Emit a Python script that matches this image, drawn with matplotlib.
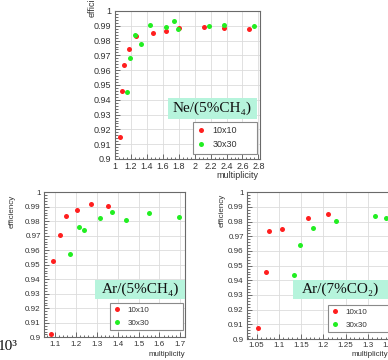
import matplotlib
matplotlib.use("Agg")
import matplotlib.pyplot as plt
from matplotlib.ticker import MultipleLocator, AutoMinorLocator, FuncFormatter
from matplotlib.patches import Rectangle

# ---------------- data ----------------
legend_labels = ["10x10", "30x30"]
panel_titles = ["Ne/(5%CH₄)", "Ar/(5%CH₄)", "Ar/(7%CO₂)"]

ne_red_x = [1.063, 1.084, 1.118, 1.177, 1.265, 1.475, 1.635, 1.800, 2.123, 2.367, 2.686]
ne_red_y = [0.9146, 0.9460, 0.9636, 0.9746, 0.9831, 0.9849, 0.9865, 0.9885, 0.9892, 0.9885, 0.9876]
ne_green_x = [1.147, 1.189, 1.252, 1.324, 1.442, 1.639, 1.744, 1.795, 2.177, 2.367, 2.745]
ne_green_y = [0.9450, 0.9683, 0.9838, 0.9775, 0.9903, 0.9894, 0.9930, 0.9876, 0.9897, 0.9908, 0.9901]

ar_ch4_red_x = [1.080, 1.090, 1.126, 1.154, 1.207, 1.274, 1.355]
ar_ch4_red_y = [0.9021, 0.9526, 0.9706, 0.9836, 0.9878, 0.9921, 0.9906]
ar_ch4_green_x = [1.170, 1.213, 1.240, 1.316, 1.371, 1.440, 1.548, 1.694]
ar_ch4_green_y = [0.9572, 0.9759, 0.9740, 0.9825, 0.9862, 0.9811, 0.9860, 0.9828]

ar_co2_red_x = [1.052, 1.070, 1.0785, 1.106, 1.166, 1.210]
ar_co2_red_y = [0.9075, 0.9455, 0.9736, 0.9750, 0.9826, 0.9854]
ar_co2_green_x = [1.134, 1.148, 1.177, 1.229, 1.316, 1.341]
ar_co2_green_y = [0.9436, 0.9643, 0.9754, 0.9802, 0.9840, 0.9824]

# ---------------- style ----------------
W, H = 388, 360
plt.rcParams['font.family'] = ['Liberation Sans', 'DejaVu Sans']
RED = '#ff1f1f'
GREEN = '#22ee22'
MINT = '#b6f4dc'
TXT = '#333333'
SERIF = ['Liberation Serif', 'DejaVu Serif']

fig = plt.figure(figsize=(W / 100, H / 100), dpi=100)


def fx(px):
    return px / W


def fy(py):
    return 1 - py / H


def make_panel(left, right, top, bottom, xlim, xmaj, xminor_n, fs,
               rx, ry, gx, gy, title, tbox, lbox, lab_eff, lab_mult, mult_ha):
    ax = fig.add_axes([fx(left), fy(bottom), fx(right - left), (bottom - top) / H])
    ax.set_xlim(*xlim)
    ax.set_ylim(0.9, 1.0)
    ax.xaxis.set_major_locator(MultipleLocator(xmaj))
    ax.xaxis.set_minor_locator(AutoMinorLocator(xminor_n))
    ax.yaxis.set_major_locator(MultipleLocator(0.01))
    ax.yaxis.set_minor_locator(AutoMinorLocator(5))
    fmt = FuncFormatter(lambda v, p: f"{v:.3f}".rstrip('0').rstrip('.'))
    ax.xaxis.set_major_formatter(fmt)
    ax.yaxis.set_major_formatter(fmt)
    ax.tick_params(which='both', direction='in', colors='#555555', labelcolor=TXT,
                   labelsize=fs, width=0.6)
    ax.tick_params(which='major', length=3.5, pad=2.5)
    ax.tick_params(which='minor', length=1.8)
    ax.grid(True, which='major', color='#dcdcdc', lw=0.6)
    ax.set_axisbelow(True)
    for s in ax.spines.values():
        s.set_color('#6a6a6a')
        s.set_linewidth(0.8)
    ax.plot(rx, ry, 'o', color=RED, ms=3.6, mew=0, label=legend_labels[0], zorder=3)
    ax.plot(gx, gy, 'o', color=GREEN, ms=3.6, mew=0, label=legend_labels[1], zorder=3)

    # title box
    x0, x1, y0, y1, tcx = tbox
    fig.add_artist(Rectangle((fx(x0), fy(y1)), fx(x1 - x0), (y1 - y0) / H,
                             transform=fig.transFigure, fc=MINT, ec='none', zorder=5))
    fig.text(fx(tcx), fy((y0 + y1) / 2), title, ha='center', va='center',
             family=SERIF, fontsize=11, color='#111111', zorder=6)

    # legend
    lx0, lx1, ly0, ly1 = lbox
    leg = ax.legend(loc='upper left', bbox_to_anchor=(fx(lx0), fy(ly0), fx(lx1 - lx0), 0.0001),
                    bbox_transform=fig.transFigure, mode='expand', borderaxespad=0,
                    fontsize=fs, fancybox=False, framealpha=1, edgecolor='#8a8a8a',
                    handlelength=0.8, handletextpad=0.9, labelspacing=0.6, borderpad=0.45,
                    markerscale=1.0)
    leg.get_frame().set_linewidth(0.8)
    for t in leg.get_texts():
        t.set_color(TXT)

    ex, ey, eva = lab_eff
    fig.text(fx(ex), fy(ey), 'efficiency', rotation=90, ha='center', va=eva,
             fontsize=fs, color=TXT)
    mx, my = lab_mult
    fig.text(fx(mx), fy(my), 'multiplicity', ha=mult_ha, va='center',
             fontsize=fs, color=TXT)
    return ax


# top panel: Ne/(5%CH4)
make_panel(115, 260, 11, 159, (1.0, 2.82), 0.2, 4, 6.5,
           ne_red_x, ne_red_y, ne_green_x, ne_green_y, panel_titles[0],
           (168, 257, 98, 119, 212), (193, 257, 122, 148),
           (92.5, 17, 'bottom'), (258, 175), 'right')

# bottom left: Ar/(5%CH4)
make_panel(44.3, 184.5, 192.3, 337.3, (1.049, 1.72), 0.1, 5, 5.8,
           ar_ch4_red_x, ar_ch4_red_y, ar_ch4_green_x, ar_ch4_green_y, panel_titles[1],
           (95, 185, 280, 299, 141), (110, 183, 303, 330),
           (12.5, 195, 'top'), (185, 355), 'right')

# bottom right: Ar/(7%CO2)
make_panel(247.3, 397.5, 192.3, 339, (1.029, 1.367), 0.05, 5, 5.8,
           ar_co2_red_x, ar_co2_red_y, ar_co2_green_x, ar_co2_green_y, panel_titles[2],
           (293, 392, 280, 299, 340), (328, 396, 305, 332),
           (222, 194, 'top'), (352, 355), 'left')

# stray label from neighbouring figure
fig.text(fx(-2), fy(347), '10³', ha='left', va='center', family=SERIF,
         fontsize=11, color='#111111')

fig.savefig('out.png', dpi=100)
